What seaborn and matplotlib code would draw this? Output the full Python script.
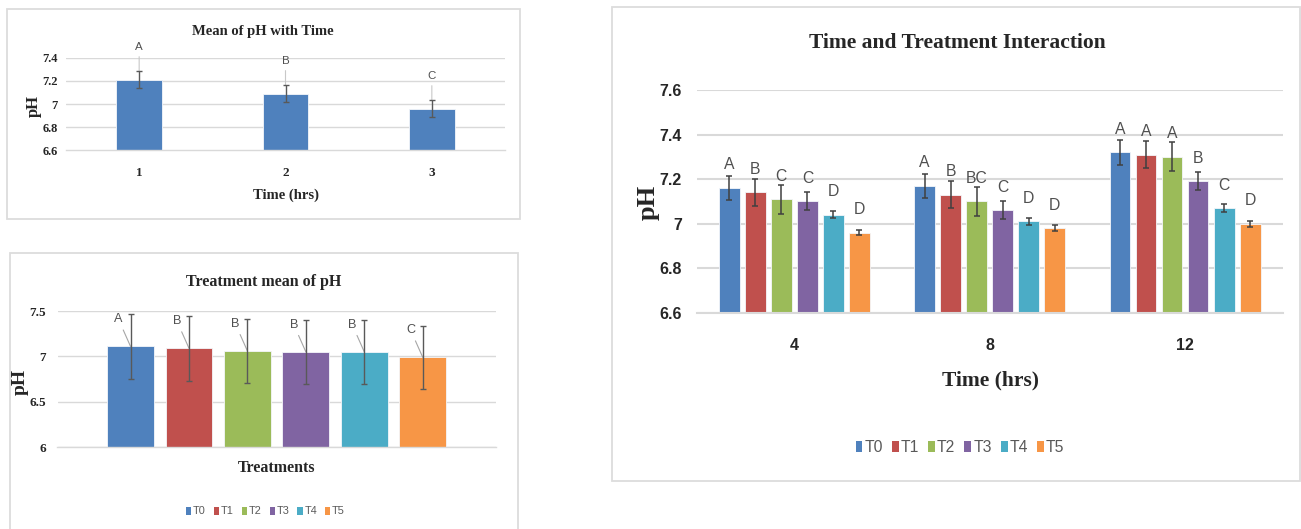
import matplotlib
matplotlib.use("Agg")
import matplotlib.pyplot as plt
import numpy as np
import pandas as pd
import seaborn as sns
from matplotlib import font_manager as fm
from matplotlib.patches import Patch, Rectangle

# ---------------- data ----------------
# mean pH by sampling time
time_points = ["1", "2", "3"]
time_ph_mean = [7.21, 7.09, 6.96]
time_ph_err = [0.075, 0.075, 0.075]
time_letters = ["A", "B", "C"]

# mean pH by treatment
treatments = ["T0", "T1", "T2", "T3", "T4", "T5"]
trt_ph_mean = [7.11, 7.09, 7.06, 7.05, 7.05, 6.99]
trt_ph_err = [0.36, 0.36, 0.35, 0.35, 0.35, 0.35]
trt_letters = ["A", "B", "B", "B", "B", "C"]

# time x treatment interaction
hours = ["4", "8", "12"]
ph_T0 = [7.16, 7.17, 7.32]
ph_T1 = [7.14, 7.13, 7.31]
ph_T2 = [7.11, 7.10, 7.30]
ph_T3 = [7.10, 7.06, 7.19]
ph_T4 = [7.04, 7.01, 7.07]
ph_T5 = [6.96, 6.98, 7.00]
inter_err = [0.055, 0.06, 0.065, 0.04, 0.017, 0.013]   # per treatment
letters_4h = ["A", "B", "C", "C", "D", "D"]
letters_8h = ["A", "B", "BC", "C", "D", "D"]
letters_12h = ["A", "A", "A", "B", "C", "D"]

p1_yticks = [6.6, 6.8, 7.0, 7.2, 7.4]
p1_ylabels = ["6.6", "6.8", "7", "7.2", "7.4"]
p2_yticks = [6.0, 6.5, 7.0, 7.5]
p2_ylabels = ["6", "6.5", "7", "7.5"]
p3_yticks = [6.6, 6.8, 7.0, 7.2, 7.4, 7.6]
p3_ylabels = ["6.6", "6.8", "7", "7.2", "7.4", "7.6"]

palette = ["#4F81BD", "#C0504D", "#9BBB59", "#8064A2", "#4BACC6", "#F79646"]

# ---------------- style ----------------
sns.set_style("white")
installed = {f.name for f in fm.fontManager.ttflist}
HAS_NARROW = "Liberation Sans Narrow" in installed
SERIF = ["Liberation Serif", "DejaVu Serif"]
NARROW = ["Liberation Sans Narrow", "Liberation Sans", "DejaVu Sans"]
NSCALE = 1.0 if HAS_NARROW else 0.87
plt.rcParams["font.family"] = ["Liberation Sans", "DejaVu Sans"]

GRID = "#d9d9d9"
ERR = "#404040"
LETTER = "#505050"

W, H = 1301, 529
fig = plt.figure(figsize=(W / 100, H / 100), dpi=100)
fig.patch.set_facecolor("white")


def box(l, t, r, b):
    return [l / W, 1 - b / H, (r - l) / W, (b - t) / H]


def fpt(x, y):
    return x / W, 1 - y / H


def frame(l, t, r, b):
    fig.add_artist(Rectangle((l / W, 1 - b / H), (r - l) / W, (b - t) / H,
                             transform=fig.transFigure, facecolor="none",
                             edgecolor="#dcdcdc", lw=1.3, zorder=0))


def style_axis(ax, ncat, ylim, ticks, labels, grid_lw, tick_font, tick_size, pad):
    ax.set_xlim(-0.5, ncat - 0.5)
    ax.set_ylim(*ylim)
    ax.set_autoscale_on(False)
    ax.set_yticks(ticks)
    ax.set_yticklabels(labels, family=tick_font, fontweight="bold",
                       fontsize=tick_size)
    ax.yaxis.grid(True, color=GRID, lw=grid_lw)
    ax.set_axisbelow(True)
    for s in ("left", "top", "right"):
        ax.spines[s].set_visible(False)
    ax.spines["bottom"].set_color(GRID)
    ax.spines["bottom"].set_linewidth(grid_lw)
    ax.tick_params(axis="both", length=0)
    ax.tick_params(axis="y", pad=pad)
    ax.set_xlabel("")
    ax.set_ylabel("")


def bar_centers(ax):
    out = []
    for bar in ax.patches:
        out.append((bar.get_x() + bar.get_width() / 2, bar.get_height()))
    return out


frame(7.3, 8.5, 519.5, 219)
frame(9.7, 253.3, 517.8, 540)
frame(612.3, 7.3, 1300, 481)

# ---------------- panel 1: pH by time ----------------
ax1 = fig.add_axes(box(66, 57.7, 505, 150.5))
df1 = pd.DataFrame({"time": time_points, "ph": time_ph_mean})
sns.barplot(data=df1, x="time", y="ph", order=time_points, color=palette[0],
            width=0.31, saturation=1, errorbar=None, ax=ax1,
            edgecolor="#f4f6fa", linewidth=0.6)
style_axis(ax1, len(time_points), (6.6, 7.4), p1_yticks, p1_ylabels, 1.0,
           SERIF, 9, 6)
ax1.set_xticks(range(len(time_points)))
ax1.set_xticklabels(time_points, family=SERIF, fontweight="bold", fontsize=9.5)
ax1.tick_params(axis="x", pad=12)
for (xc, top) in bar_centers(ax1):
    i = int(round(xc))
    ax1.errorbar(xc, top, yerr=time_ph_err[i], fmt="none", ecolor="#595959",
                 elinewidth=1.0, capsize=2.3, capthick=1.0, zorder=4)
    ax1.annotate(time_letters[i], xy=(xc, top + time_ph_err[i]), xytext=(0, 24),
                 textcoords="offset pixels", ha="center", va="center",
                 family=NARROW, fontsize=9.5 * NSCALE, color=LETTER,
                 arrowprops=dict(arrowstyle="-", color="#c8c8c8", lw=0.8,
                                 shrinkA=1, shrinkB=0), zorder=3)
fig.text(*fpt(263, 31), "Mean of pH with Time", family=SERIF, fontweight="bold",
         fontsize=10.5, ha="center", va="center")
fig.text(*fpt(34, 106), "pH", family=SERIF, fontweight="bold", fontsize=12,
         rotation=90, ha="center", va="center")
fig.text(*fpt(286, 195.6), "Time (hrs)", family=SERIF, fontweight="bold",
         fontsize=10.5, ha="center", va="center")

# ---------------- panel 2: pH by treatment ----------------
ax2 = fig.add_axes(box(57.5, 311, 495.8, 447.3))
df2 = pd.DataFrame({"group": ["pH"] * len(treatments), "treatment": treatments,
                    "ph": trt_ph_mean})
sns.barplot(data=df2, x="group", y="ph", hue="treatment", hue_order=treatments,
            palette=palette, width=0.8, gap=0.2, saturation=1, errorbar=None,
            legend=False, ax=ax2, edgecolor="#f4f6fa", linewidth=0.6)
style_axis(ax2, 1, (6.0, 7.5), p2_yticks, p2_ylabels, 1.0, SERIF, 9.5, 8.5)
ax2.tick_params(axis="x", labelbottom=False)
step2 = 0.8 / len(treatments)
for (xc, top) in bar_centers(ax2):
    k = int(round((xc - round(xc)) / step2 + (len(treatments) - 1) / 2))
    ax2.errorbar(xc, top, yerr=trt_ph_err[k], fmt="none", ecolor="#595959",
                 elinewidth=1.0, capsize=2.3, capthick=1.0, zorder=4)
    ax2.annotate(trt_letters[k], xy=(xc, top), xytext=(-12, 27),
                 textcoords="offset pixels", ha="center", va="center",
                 family=NARROW, fontsize=10.5 * NSCALE, color=LETTER,
                 arrowprops=dict(arrowstyle="-", color="#a6a6a6", lw=0.8,
                                 shrinkA=1, shrinkB=0), zorder=3)
fig.text(*fpt(264, 282.3), "Treatment mean of pH", family=SERIF,
         fontweight="bold", fontsize=11.5, ha="center", va="center")
fig.text(*fpt(20.5, 382), "pH", family=SERIF, fontweight="bold", fontsize=14,
         rotation=90, ha="center", va="center")
fig.text(*fpt(276.8, 468.4), "Treatments", family=SERIF, fontweight="bold",
         fontsize=11.5, ha="center", va="center")
fig.legend(handles=[Patch(facecolor=c, edgecolor="none") for c in palette],
           labels=treatments, loc="center", bbox_to_anchor=fpt(265.5, 511.4),
           bbox_transform=fig.transFigure, ncol=6, frameon=False,
           prop=fm.FontProperties(family=NARROW, size=9 * NSCALE),
           handlelength=0.48, handleheight=0.76, handletextpad=0.15,
           columnspacing=0.75, labelcolor="#595959")

# ---------------- panel 3: interaction ----------------
ax3 = fig.add_axes(box(696.7, 90, 1282.7, 312.7))
inter_series = [ph_T0, ph_T1, ph_T2, ph_T3, ph_T4, ph_T5]
df3 = pd.DataFrame({
    "hour": np.tile(hours, len(treatments)),
    "treatment": np.repeat(treatments, len(hours)),
    "ph": np.concatenate(inter_series),
})
sns.barplot(data=df3, x="hour", y="ph", order=hours, hue="treatment",
            hue_order=treatments, palette=palette, width=0.8, gap=0.2,
            saturation=1, errorbar=None, legend=False, ax=ax3,
            edgecolor="#f4f6fa", linewidth=0.6)
tick_fam3 = NARROW if HAS_NARROW else ["Liberation Sans", "DejaVu Sans"]
tick_sz3 = 13 if HAS_NARROW else 11.5
style_axis(ax3, len(hours), (6.6, 7.6), p3_yticks, p3_ylabels, 1.5,
           tick_fam3, tick_sz3, 10.5)
ax3.set_xticks(range(len(hours)))
ax3.set_xticklabels(hours, family=tick_fam3, fontweight="bold", fontsize=tick_sz3)
ax3.tick_params(axis="x", pad=18)
letters_by_hour = [letters_4h, letters_8h, letters_12h]
step3 = 0.8 / len(treatments)
for (xc, top) in bar_centers(ax3):
    h = int(round(xc))
    k = int(round((xc - h) / step3 + (len(treatments) - 1) / 2))
    ax3.errorbar(xc, top, yerr=inter_err[k], fmt="none", ecolor=ERR,
                 elinewidth=1.1, capsize=2.4, capthick=1.1, zorder=4)
    ax3.annotate(letters_by_hour[h][k], xy=(xc, top), xytext=(0, 23),
                 textcoords="offset pixels", ha="center", va="center",
                 family=NARROW, fontsize=13 * NSCALE, color=LETTER)
fig.text(*fpt(957, 43.3), "Time and Treatment Interaction", family=SERIF,
         fontweight="bold", fontsize=15.5, ha="center", va="center")
fig.text(*fpt(648.3, 202.3), "pH", family=SERIF, fontweight="bold", fontsize=19,
         rotation=90, ha="center", va="center")
fig.text(*fpt(990, 380), "Time (hrs)", family=SERIF, fontweight="bold",
         fontsize=15.5, ha="center", va="center")
fig.legend(handles=[Patch(facecolor=c, edgecolor="none") for c in palette],
           labels=treatments, loc="center", bbox_to_anchor=fpt(960, 447.3),
           bbox_transform=fig.transFigure, ncol=6, frameon=False,
           prop=fm.FontProperties(family=NARROW, size=13 * NSCALE),
           handlelength=0.44, handleheight=0.70, handletextpad=0.12,
           columnspacing=0.58, labelcolor="#595959")

fig.savefig("out.png", dpi=100, facecolor="white")
